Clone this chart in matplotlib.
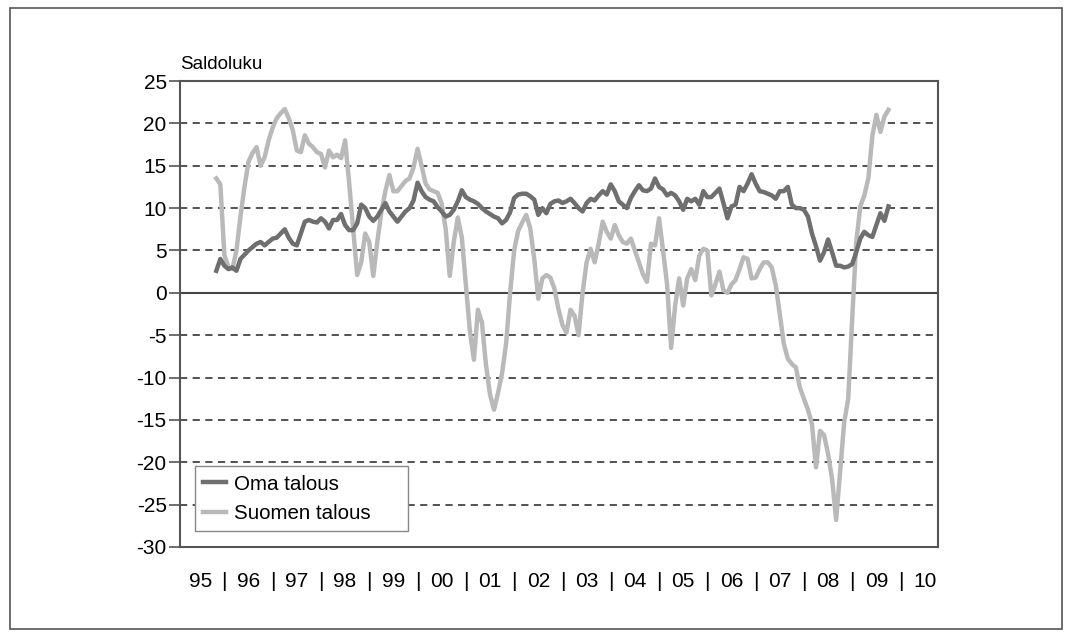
import matplotlib
matplotlib.use("Agg")
import matplotlib.pyplot as plt
from matplotlib.patches import Rectangle

plt.rcParams['font.family'] = ['Liberation Sans', 'DejaVu Sans']

# Monthly balance figures, Nov 1995 .. Oct 2009
start_year, start_month = 1995, 11

oma_talous = [
    2.6, 4.0, 3.2, 2.8, 3.0, 2.6, 4.0, 4.5, 5.0, 5.4, 5.8, 6.0,
    5.6, 6.0, 6.4, 6.5, 7.0, 7.5, 6.5, 5.8, 5.6, 7.0, 8.4, 8.6,
    8.4, 8.3, 8.8, 8.4, 7.6, 8.6, 8.6, 9.3, 8.0, 7.4, 7.4, 8.2,
    10.4, 10.0, 9.0, 8.5, 9.0, 9.8, 10.6, 9.6, 9.0, 8.4, 9.0, 9.6,
    10.0, 10.9, 13.0, 12.0, 11.3, 11.0, 10.8, 10.1, 9.6, 9.0, 9.2, 9.8,
    10.8, 12.1, 11.3, 11.0, 10.8, 10.5, 10.0, 9.6, 9.3, 9.0, 8.8, 8.2,
    8.6, 9.5, 11.2, 11.6, 11.7, 11.7, 11.4, 11.0, 9.2, 10.0, 9.4, 10.5,
    10.8, 10.9, 10.6, 10.8, 11.1, 10.6, 10.0, 9.6, 10.6, 11.1, 10.9, 11.5,
    12.0, 11.6, 12.8, 12.0, 10.8, 10.4, 10.0, 11.2, 12.0, 12.7, 12.1, 12.0,
    12.3, 13.5, 12.5, 12.2, 11.5, 11.8, 11.5, 10.8, 9.8, 11.1, 10.8, 11.1,
    10.4, 12.0, 11.3, 11.3, 11.8, 12.3, 10.6, 8.8, 10.2, 10.4, 12.5, 12.0,
    12.9, 14.0, 12.9, 12.0, 11.9, 11.7, 11.5, 11.1, 12.0, 12.0, 12.5, 10.4,
    10.0, 10.0, 9.8, 9.0, 7.0, 5.5, 3.8, 4.8, 6.3, 4.8, 3.2, 3.2,
    3.0, 3.1, 3.4, 4.8, 6.4, 7.2, 6.8, 6.6, 8.0, 9.4, 8.5, 10.2,
]

suomen_talous = [
    13.5, 12.8, 4.5, 3.0, 2.8, 5.0, 9.0, 12.5, 15.5, 16.5, 17.2, 15.0,
    16.0, 18.0, 19.5, 20.6, 21.2, 21.7, 20.6, 19.2, 16.8, 16.6, 18.6, 17.6,
    17.2, 16.6, 16.4, 14.8, 16.8, 16.0, 16.3, 15.9, 18.0, 13.0, 7.5, 2.1,
    3.6, 7.0, 6.0, 2.0, 6.0, 9.5, 12.0, 13.9, 12.0, 12.0, 12.6, 13.2,
    13.5, 14.8, 17.0, 15.0, 12.9, 12.2, 12.0, 11.8, 10.5, 7.5, 2.0, 6.0,
    8.9, 6.5, 1.0, -4.5, -7.9, -2.0, -3.5, -8.5, -12.0, -13.8, -11.8, -9.5,
    -6.0, 0.0, 5.0, 7.3, 8.3, 9.2, 7.6, 4.0, -0.7, 1.7, 2.1, 1.8,
    0.5, -1.9, -3.8, -4.7, -2.0, -2.7, -5.0, 0.0, 3.6, 5.2, 3.6, 5.8,
    8.4, 7.2, 6.4, 8.0, 6.8, 6.0, 5.8, 6.4, 5.0, 3.6, 2.2, 1.3,
    5.8, 5.6, 8.8, 5.0, 1.0, -6.5, -1.5, 1.7, -1.5, 1.7, 2.8, 1.5,
    4.4, 5.2, 5.0, -0.3, 1.0, 2.5, 0.3, 0.0, 1.0, 1.5, 2.8, 4.2,
    4.0, 1.7, 1.8, 2.8, 3.6, 3.6, 3.0, 0.9, -2.5, -6.0, -7.8, -8.4,
    -8.8, -11.2, -12.5, -13.8, -15.5, -20.6, -16.3, -16.8, -19.0, -22.0, -26.8, -21.0,
    -15.3, -12.5, -3.0, 6.0, 10.2, 11.5, 13.5, 18.5, 21.0, 19.0, 20.8, 21.6,
]

years = list(range(1995, 2011))
year_labels = [str(y)[2:] for y in years]
y_ticks = list(range(-30, 30, 5))

months = [start_year + (start_month - 1 + i) / 12 for i in range(len(oma_talous))]

fig = plt.figure(figsize=(10.71, 6.37), dpi=100)
ax = fig.add_axes([0.168, 0.1413, 0.708, 0.7315])

# outer frame of the picture
fig.patches.append(Rectangle((0.009, 0.013), 0.983, 0.975, transform=fig.transFigure,
                             fill=False, edgecolor='#555555', linewidth=1.2))

for t in y_ticks:
    if t == 0:
        ax.axhline(0, color='#444444', linewidth=1.5, zorder=1)
    else:
        ax.axhline(t, color='#444444', linewidth=1.3, linestyle=(0, (4, 3)), zorder=1)

ax.plot(months, oma_talous, color='#6f6f6f', linewidth=3.2, label='Oma talous', zorder=3)
ax.plot(months, suomen_talous, color='#b9b9b9', linewidth=3.2, label='Suomen talous', zorder=2)

ax.set_xlim(1995.08, 2010.78)
ax.set_ylim(-30, 25)
ax.set_yticks(y_ticks)
ax.set_yticklabels([str(t) for t in y_ticks])
ax.tick_params(axis='y', direction='out', length=8, width=1.2, color='#555555',
               labelsize=15, pad=1.5)

ax.set_xticks([y + 0.5 for y in years])
ax.set_xticklabels(year_labels)
ax.set_xticks(years[1:], minor=True)
ax.set_xticklabels(['|'] * len(years[1:]), minor=True)
ax.tick_params(axis='x', which='both', length=0, labelsize=15, pad=18)

for s in ax.spines.values():
    s.set_color('#555555')
    s.set_linewidth(1.5)

ax.text(0.0, 1.018, 'Saldoluku', transform=ax.transAxes, fontsize=13.5,
        ha='left', va='bottom')

leg = ax.legend(loc='lower left', bbox_to_anchor=(0.02, 0.034, 0.281, 0.144),
                mode='expand', borderaxespad=0,
                fontsize=14.8, fancybox=False, framealpha=1, edgecolor='#888888',
                handlelength=1.1, handletextpad=0.4, labelspacing=0.5,
                borderpad=0.4)
leg.get_frame().set_linewidth(1.0)

fig.savefig('out.png', dpi=100)
